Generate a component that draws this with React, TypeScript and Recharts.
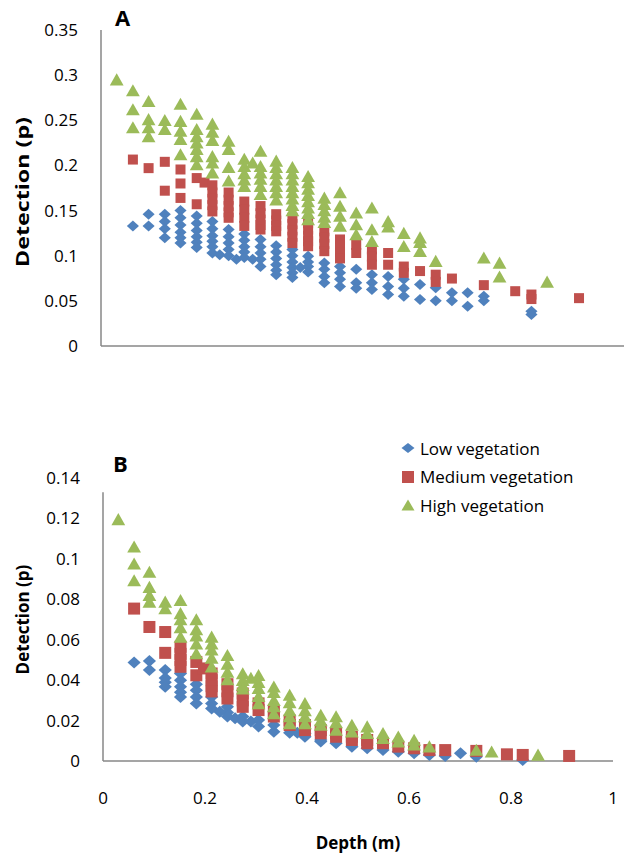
import { Label, Legend, ReferenceLine, Scatter, ScatterChart, XAxis, YAxis } from "recharts"

const FONT = "'Open Sans', sans-serif"
const AXIS = "#878787"
const BLUE = "#4F81BD"
const RED = "#C0504D"
const GREEN = "#9BBB59"

const xTicks = [0, 0.2, 0.4, 0.6, 0.8, 1]
const yTicksA = [0, 0.05, 0.1, 0.15, 0.2, 0.25, 0.3, 0.35]
const yTicksB = [0, 0.02, 0.04, 0.06, 0.08, 0.1, 0.12, 0.14]
const seriesNames = ["Low vegetation", "Medium vegetation", "High vegetation"]

// each row: [depth (m), detection values at that depth...]
const lowA = [
  [0.061, 0.133],
  [0.091, 0.146, 0.133],
  [0.122, 0.146, 0.138, 0.13, 0.12],
  [0.152, 0.15, 0.142, 0.134, 0.126, 0.12, 0.114],
  [0.183, 0.144, 0.136, 0.128, 0.121, 0.115, 0.109],
  [0.213, 0.138, 0.13, 0.122, 0.116, 0.11, 0.103],
  [0.227, 0.101],
  [0.244, 0.129, 0.121, 0.114, 0.107, 0.1],
  [0.259, 0.096],
  [0.274, 0.124, 0.117, 0.11, 0.104, 0.098],
  [0.29, 0.096],
  [0.305, 0.118, 0.11, 0.103, 0.096, 0.088],
  [0.335, 0.111, 0.104, 0.097, 0.09, 0.084, 0.079],
  [0.366, 0.107, 0.1, 0.093, 0.087, 0.081, 0.076],
  [0.381, 0.087],
  [0.396, 0.0995, 0.093, 0.088, 0.082],
  [0.427, 0.092, 0.085, 0.077, 0.07],
  [0.457, 0.088, 0.081, 0.074, 0.066],
  [0.488, 0.085, 0.07, 0.064],
  [0.518, 0.079, 0.07, 0.0625],
  [0.549, 0.077, 0.066, 0.057],
  [0.579, 0.074, 0.064, 0.055],
  [0.61, 0.068, 0.0515],
  [0.64, 0.0645, 0.05],
  [0.671, 0.059, 0.05],
  [0.701, 0.059, 0.044],
  [0.732, 0.055, 0.05],
  [0.823, 0.0385, 0.035],
]

const mediumA = [
  [0.061, 0.2065],
  [0.091, 0.197],
  [0.122, 0.204, 0.172],
  [0.152, 0.1955, 0.18, 0.164],
  [0.183, 0.186, 0.157],
  [0.198, 0.181],
  [0.213, 0.178, 0.17, 0.163, 0.156, 0.149],
  [0.244, 0.17, 0.162, 0.155, 0.148, 0.142],
  [0.274, 0.16, 0.151, 0.142, 0.133],
  [0.305, 0.155, 0.147, 0.14, 0.134, 0.129],
  [0.335, 0.146, 0.139, 0.133, 0.127],
  [0.366, 0.142, 0.135, 0.128, 0.121, 0.114],
  [0.396, 0.136, 0.129, 0.122, 0.116, 0.1105],
  [0.427, 0.127, 0.12, 0.113, 0.105],
  [0.457, 0.118, 0.111, 0.104, 0.097],
  [0.488, 0.112, 0.103],
  [0.518, 0.107, 0.099, 0.09],
  [0.549, 0.103, 0.09],
  [0.579, 0.088, 0.081],
  [0.61, 0.083],
  [0.64, 0.079, 0.071],
  [0.671, 0.0747],
  [0.732, 0.0674],
  [0.792, 0.0607],
  [0.823, 0.057, 0.052],
  [0.914, 0.053],
]

const highA = [
  [0.03, 0.295],
  [0.061, 0.283, 0.262, 0.242],
  [0.091, 0.271, 0.251, 0.242, 0.232],
  [0.122, 0.25, 0.24],
  [0.152, 0.268, 0.249, 0.238, 0.229, 0.212],
  [0.183, 0.257, 0.24, 0.232, 0.225, 0.218, 0.21, 0.201],
  [0.213, 0.246, 0.237, 0.228, 0.21, 0.203, 0.192],
  [0.244, 0.227, 0.218, 0.198, 0.183],
  [0.274, 0.207, 0.199, 0.191, 0.184, 0.177],
  [0.29, 0.203],
  [0.305, 0.216, 0.199, 0.192, 0.185, 0.177, 0.168],
  [0.335, 0.205, 0.198, 0.191, 0.184, 0.177, 0.17, 0.162],
  [0.366, 0.198, 0.191, 0.184, 0.177, 0.17, 0.163, 0.156, 0.15],
  [0.396, 0.188, 0.181, 0.174, 0.167, 0.16, 0.153, 0.147, 0.14],
  [0.427, 0.164, 0.157, 0.15, 0.143, 0.137],
  [0.457, 0.17, 0.155, 0.144, 0.133],
  [0.488, 0.1475, 0.1345, 0.1235],
  [0.518, 0.153, 0.129, 0.116],
  [0.549, 0.138, 0.132],
  [0.579, 0.125, 0.1105],
  [0.61, 0.12, 0.115, 0.105],
  [0.64, 0.094],
  [0.732, 0.0977],
  [0.762, 0.092, 0.0766],
  [0.853, 0.071],
]

const lowB = [
  [0.061, 0.0487],
  [0.091, 0.0495, 0.045],
  [0.122, 0.045, 0.041, 0.039, 0.0367],
  [0.152, 0.0433, 0.04, 0.0367, 0.034, 0.0317],
  [0.183, 0.038, 0.035, 0.0317, 0.0285],
  [0.213, 0.0317, 0.0285, 0.026],
  [0.229, 0.0244],
  [0.244, 0.0268, 0.024, 0.022],
  [0.259, 0.0212],
  [0.274, 0.022, 0.0196],
  [0.29, 0.0196],
  [0.305, 0.0203, 0.0171],
  [0.335, 0.0178, 0.0145],
  [0.366, 0.014],
  [0.381, 0.014],
  [0.396, 0.0137, 0.012],
  [0.427, 0.0104, 0.0096],
  [0.457, 0.0088],
  [0.488, 0.0071],
  [0.518, 0.0063],
  [0.549, 0.0054],
  [0.579, 0.0046],
  [0.61, 0.0038],
  [0.64, 0.003],
  [0.671, 0.0025],
  [0.701, 0.0038],
  [0.732, 0.0021],
  [0.823, 0.0005],
]

const mediumB = [
  [0.061, 0.0754],
  [0.091, 0.0663],
  [0.122, 0.0638, 0.0535],
  [0.152, 0.0565, 0.053, 0.05, 0.0466],
  [0.183, 0.049, 0.0424],
  [0.198, 0.0458],
  [0.213, 0.0433, 0.04, 0.037, 0.0344],
  [0.244, 0.038, 0.0345, 0.0309],
  [0.274, 0.0334, 0.03, 0.0268],
  [0.305, 0.0285, 0.0252],
  [0.335, 0.0244, 0.022],
  [0.366, 0.0201, 0.0178],
  [0.396, 0.0178, 0.0153],
  [0.427, 0.0153, 0.0137],
  [0.457, 0.0137, 0.012],
  [0.488, 0.012, 0.0104],
  [0.518, 0.0104, 0.0088],
  [0.549, 0.0088],
  [0.579, 0.0071],
  [0.61, 0.0063],
  [0.64, 0.0054],
  [0.671, 0.0054],
  [0.732, 0.005],
  [0.792, 0.0033],
  [0.823, 0.003],
  [0.914, 0.0025],
]

const highB = [
  [0.03, 0.1195],
  [0.061, 0.106, 0.0976, 0.0893],
  [0.091, 0.0935, 0.086, 0.082, 0.0787],
  [0.122, 0.0787, 0.0754],
  [0.152, 0.0795, 0.073, 0.07, 0.066, 0.0614],
  [0.183, 0.07, 0.065, 0.062, 0.058, 0.0532],
  [0.213, 0.0614, 0.058, 0.055, 0.051, 0.0466],
  [0.244, 0.0523, 0.048, 0.044, 0.0403],
  [0.274, 0.0433, 0.04, 0.0375, 0.0358],
  [0.29, 0.041],
  [0.305, 0.0424, 0.039, 0.036, 0.032, 0.0285],
  [0.335, 0.0367, 0.034, 0.03, 0.027, 0.0235],
  [0.366, 0.0326, 0.029, 0.025, 0.022, 0.0185],
  [0.396, 0.0285, 0.025, 0.022, 0.0185],
  [0.427, 0.0227, 0.02, 0.0178],
  [0.457, 0.022, 0.019, 0.0153],
  [0.488, 0.0178, 0.0145],
  [0.518, 0.017, 0.0137],
  [0.549, 0.0137, 0.0112],
  [0.579, 0.012, 0.0095],
  [0.61, 0.0104, 0.008],
  [0.64, 0.0071],
  [0.732, 0.0054],
  [0.762, 0.0046],
  [0.853, 0.003],
]

const toPoints = (rows: number[][]) =>
  rows.flatMap(([x, ...ys]) => ys.map((y) => ({ x, y })))

// marker shapes, sized per panel
const diamond = (s: number) => (p: any) => (
  <path
    d={`M${p.cx},${p.cy - s * 0.5}L${p.cx + s * 0.55},${p.cy}L${p.cx},${p.cy + s * 0.5}L${p.cx - s * 0.55},${p.cy}Z`}
    fill={p.fill}
  />
)
const square = (s: number) => (p: any) => (
  <rect x={p.cx - s / 2} y={p.cy - s / 2} width={s} height={s} fill={p.fill} />
)
const triangle = (s: number) => (p: any) => (
  <path
    d={`M${p.cx},${p.cy - s * 0.55}L${p.cx + s * 0.6},${p.cy + s * 0.5}L${p.cx - s * 0.6},${p.cy + s * 0.5}Z`}
    fill={p.fill}
  />
)

const tickStyle = { fill: "#000", fontSize: 17, fontFamily: FONT }

// y title; panel A's is drawn longer because that panel was stretched
const yTitle = (dy: number, length?: number) => (props: any) => {
  const vb = props.viewBox
  const x = 22
  const y = vb.y + vb.height / 2 + dy
  return (
    <text
      x={x}
      y={y}
      transform={`rotate(-90 ${x} ${y})`}
      textAnchor="middle"
      dominantBaseline="central"
      fontWeight="bold"
      fontSize={17}
      fontFamily={FONT}
      fill="#000"
      textLength={length}
      lengthAdjust={length ? "spacingAndGlyphs" : undefined}
    >
      Detection (p)
    </text>
  )
}

const legendIcon = (type: string, color: string) => {
  if (type === "diamond") return <path d="M7,2 L13.5,7 L7,12 L0.5,7Z" fill={color} />
  if (type === "square") return <rect x={1} y={1} width={12} height={12} fill={color} />
  return <path d="M7,1.5 L13.5,12.5 L0.5,12.5Z" fill={color} />
}

const renderLegend = (props: any) => {
  const items = [...(props.payload || [])].sort(
    (a: any, b: any) => seriesNames.indexOf(a.value) - seriesNames.indexOf(b.value)
  )
  return (
    <div style={{ fontFamily: FONT, fontSize: 17, color: "#000" }}>
      {items.map((entry: any) => (
        <div key={entry.value} style={{ display: "flex", alignItems: "center", height: 28.5 }}>
          <svg width={14} height={14}>
            {legendIcon(entry.type, entry.color)}
          </svg>
          <span style={{ marginLeft: 5, whiteSpace: "nowrap" }}>{entry.value}</span>
        </div>
      ))}
    </div>
  )
}

function PanelA() {
  return (
    <ScatterChart width={625} height={360} margin={{ top: 30, right: 1, bottom: 0, left: 0 }}>
      <XAxis
        type="number"
        dataKey="x"
        domain={[0, 1]}
        ticks={xTicks}
        interval={0}
        height={14}
        tick={false}
        tickSize={5}
        axisLine={{ stroke: AXIS, strokeWidth: 1.5 }}
        tickLine={{ stroke: AXIS, strokeWidth: 1.5 }}
      />
      <YAxis
        type="number"
        dataKey="y"
        domain={[0, 0.35]}
        ticks={yTicksA}
        interval={0}
        width={101}
        tick={tickStyle}
        tickLine={false}
        tickMargin={17}
        axisLine={{ stroke: AXIS, strokeWidth: 1.5 }}
      >
        <Label content={yTitle(4, 150)} />
      </YAxis>
      <Scatter name={seriesNames[0]} data={toPoints(lowA)} fill={BLUE} shape={diamond(11)} isAnimationActive={false} />
      <Scatter name={seriesNames[1]} data={toPoints(mediumA)} fill={RED} shape={square(10)} isAnimationActive={false} />
      <Scatter name={seriesNames[2]} data={toPoints(highA)} fill={GREEN} shape={triangle(11.5)} isAnimationActive={false} />
    </ScatterChart>
  )
}

function PanelB() {
  return (
    <ScatterChart width={625} height={439} margin={{ top: 58, right: 12, bottom: 0, left: 0 }}>
      <XAxis
        type="number"
        dataKey="x"
        domain={[0, 1]}
        ticks={xTicks}
        interval={0}
        height={98}
        tick={tickStyle}
        tickLine={false}
        tickMargin={25}
        axisLine={{ stroke: AXIS, strokeWidth: 1.5 }}
      >
        <Label
          content={(props: any) => (
            <text
              x={props.viewBox.x + props.viewBox.width / 2}
              y={props.viewBox.y + 81}
              textAnchor="middle"
              dominantBaseline="central"
              fontWeight="bold"
              fontSize={17}
              fontFamily={FONT}
              fill="#000"
            >
              Depth (m)
            </text>
          )}
        />
      </XAxis>
      <YAxis
        type="number"
        dataKey="y"
        domain={[0, 0.14]}
        ticks={yTicksB}
        interval={0}
        width={103}
        tick={tickStyle}
        tickLine={false}
        tickMargin={17}
        axisLine={false}
      >
        <Label content={yTitle(0)} />
      </YAxis>
      <ReferenceLine
        segment={[{ x: 0, y: 0 }, { x: 0, y: 0.133 }]}
        stroke={AXIS}
        strokeWidth={1.5}
      />
      <Legend
        layout="horizontal"
        verticalAlign="middle"
        align="center"
        width={220}
        wrapperStyle={{ left: 401, top: 14 }}
        content={renderLegend}
      />
      <Scatter name={seriesNames[0]} data={toPoints(lowB)} fill={BLUE} legendType="diamond" shape={diamond(12)} isAnimationActive={false} />
      <Scatter name={seriesNames[1]} data={toPoints(mediumB)} fill={RED} legendType="square" shape={square(12)} isAnimationActive={false} />
      <Scatter name={seriesNames[2]} data={toPoints(highB)} fill={GREEN} legendType="triangle" shape={triangle(11.5)} isAnimationActive={false} />
    </ScatterChart>
  )
}

export default function App() {
  return (
    <div
      style={{
        position: "absolute",
        left: 0,
        top: 0,
        width: 625,
        height: 859,
        background: "#fff",
        fontFamily: FONT,
      }}
    >
      <div style={{ position: "absolute", left: 0, top: 0 }}>
        <PanelA />
      </div>
      <div style={{ position: "absolute", left: 0, top: 420 }}>
        <PanelB />
      </div>
      <div style={{ position: "absolute", left: 115, top: 6, fontSize: 22, fontWeight: "bold", lineHeight: "22px" }}>A</div>
      <div style={{ position: "absolute", left: 113, top: 452, fontSize: 22, fontWeight: "bold", lineHeight: "22px" }}>B</div>
    </div>
  )
}
